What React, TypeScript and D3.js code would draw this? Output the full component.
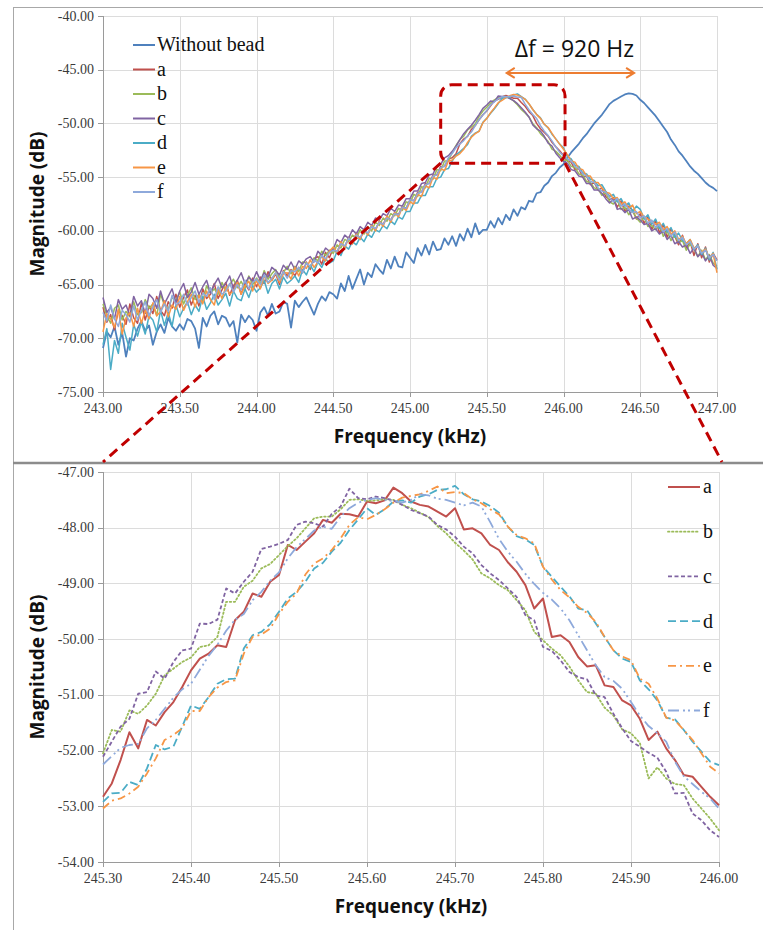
import * as d3 from 'd3';
import React, { useRef, useEffect } from 'react';

// sampling of the two panels
const topStart = 243.0;
const topStep = 0.025;
const zoomStart = 245.3;
const zoomStep = 0.01;

const topXTicks = [243.0, 243.5, 244.0, 244.5, 245.0, 245.5, 246.0, 246.5, 247.0];
const topYTicks = [-40, -45, -50, -55, -60, -65, -70, -75];
const zoomXTicks = [245.3, 245.4, 245.5, 245.6, 245.7, 245.8, 245.9, 246.0];
const zoomYTicks = [-47, -48, -49, -50, -51, -52, -53, -54];

const seriesNames = ['a', 'b', 'c', 'd', 'e', 'f'];
const seriesColors = ['#C0504D', '#9BBB59', '#8064A2', '#4BACC6', '#F79646', '#8EA9DB'];
const beadColor = '#4F81BD';
const zoomDash = ['', '1.5,2.5', '4,2.5', '8,4', '8,4,2,4', '11,4,2,3,2,4'];

// top panel (dB), 243.000 .. 247.000 kHz
const withoutBead = [
  -70.9, -69.4, -69.9, -68.9, -70.6, -69.5, -71.7, -70.0, -70.2, -69.1,
  -68.4, -69.3, -68.8, -70.6, -69.4, -68.7, -69.5, -68.1, -68.9, -69.3,
  -68.7, -69.2, -68.2, -68.4, -69.1, -70.9, -68.1, -68.9, -67.9, -67.5,
  -68.7, -67.9, -68.1, -68.9, -68.4, -70.4, -67.8, -68.5, -67.9, -68.3,
  -69.3, -67.6, -67.1, -67.9, -66.8, -67.7, -67.5, -66.6, -66.8, -69.0,
  -66.5, -67.1, -66.6, -66.2, -67.0, -67.8, -66.8, -66.1, -66.5, -65.7,
  -65.9, -66.3, -64.9, -65.6, -64.2, -65.4, -64.5, -63.6, -65.0, -63.9,
  -64.3, -63.1, -63.6, -64.0, -62.7, -63.5, -62.4, -63.3, -63.4, -62.0,
  -62.5, -63.0, -61.6, -62.3, -61.3, -62.2, -61.0, -61.8, -61.7, -60.7,
  -61.3, -60.5, -61.4, -60.3, -60.9, -59.8, -60.6, -59.3, -60.3, -59.9,
  -59.9, -59.1, -59.7, -58.8, -59.4, -58.5, -59.0, -58.0, -58.6, -57.8,
  -58.0, -57.2, -57.3, -56.5, -56.4, -55.8, -55.5, -54.9, -54.6, -54.1,
  -53.8, -53.2, -52.7, -52.3, -51.9, -51.4, -51.0, -50.5, -50.0, -49.6,
  -49.2, -48.7, -48.2, -47.9, -47.7, -47.5, -47.3, -47.2, -47.25, -47.4,
  -47.8, -48.1, -48.5, -48.9, -49.3, -49.8, -50.3, -50.8, -51.5, -52.0,
  -52.6, -53.0, -53.5, -54.0, -54.4, -54.7, -55.1, -55.5, -55.8, -56.0,
  -56.3,
];
const topA = [
  -67.1, -68.5, -67.8, -69.2, -67.4, -67.9, -68.7, -66.8, -68.1, -68.6,
  -66.7, -68.3, -67.0, -67.7, -66.1, -67.4, -67.9, -66.6, -67.2, -65.9,
  -67.1, -66.2, -65.5, -66.9, -66.0, -67.0, -65.4, -66.3, -65.9, -64.9,
  -66.3, -65.5, -64.8, -66.0, -65.1, -64.6, -65.9, -64.9, -65.5, -64.4,
  -65.2, -64.3, -64.9, -63.8, -64.6, -64.0, -65.0, -63.7, -64.2, -63.6,
  -64.2, -63.4, -63.9, -62.9, -63.6, -62.6, -62.4, -63.1, -62.0, -62.5,
  -61.6, -62.1, -61.1, -61.5, -60.6, -61.2, -60.2, -60.8, -59.9, -60.3,
  -59.5, -59.9, -59.1, -59.4, -58.7, -59.0, -58.3, -58.5, -57.7, -57.9,
  -57.1, -57.2, -56.4, -56.4, -55.6, -55.6, -54.8, -54.8, -54.0, -54.0,
  -53.3, -53.2, -52.83, -51.9, -51.45, -51.2, -50.56, -50.2, -49.66, -49.2,
  -48.85, -48.35, -47.86, -47.75, -47.53, -47.4, -47.53, -47.65, -47.65, -48.05,
  -48.40, -48.9, -49.27, -50.0, -50.49, -50.85, -51.19, -51.75, -52.17, -52.55,
  -52.98, -53.5, -53.6, -54.3, -54.2, -55.0, -54.9, -55.7, -55.5, -56.2,
  -56.0, -56.8, -57.1, -56.9, -57.8, -57.2, -58.2, -57.7, -58.1, -58.9,
  -58.4, -59.3, -58.7, -59.9, -59.0, -60.2, -59.4, -60.6, -59.8, -60.5,
  -61.3, -60.4, -61.6, -61.0, -62.3, -61.2, -62.5, -61.5, -62.9, -62.1,
  -62.7,
];
const topB = [
  -66.8, -67.9, -68.6, -67.2, -66.9, -68.3, -67.5, -68.0, -66.6, -67.8,
  -67.6, -66.4, -67.2, -66.8, -67.9, -65.9, -66.9, -67.3, -66.2, -66.5,
  -65.7, -66.8, -66.0, -65.3, -66.4, -65.9, -66.6, -65.1, -65.8, -65.4,
  -65.9, -64.8, -65.6, -65.0, -64.5, -65.3, -64.7, -65.4, -64.2, -65.0,
  -64.4, -64.9, -63.7, -64.5, -64.0, -63.6, -64.4, -63.9, -63.3, -64.0,
  -63.3, -63.8, -62.9, -63.0, -63.4, -62.5, -62.8, -61.9, -62.3, -61.8,
  -62.1, -61.3, -61.6, -60.8, -61.0, -60.4, -60.7, -59.9, -60.3, -59.6,
  -60.0, -59.2, -59.5, -58.8, -59.1, -58.4, -58.6, -57.9, -58.1, -57.3,
  -57.4, -56.6, -56.8, -55.9, -56.0, -55.1, -55.2, -54.3, -54.4, -53.5,
  -53.5, -52.7, -52.05, -51.5, -51.19, -50.6, -50.33, -50.05, -49.33, -48.85,
  -48.49, -48.1, -47.80, -47.6, -47.52, -47.5, -47.65, -47.9, -48.27, -48.7,
  -49.03, -49.4, -50.02, -50.4, -50.95, -51.3, -51.69, -52.4, -52.60, -52.95,
  -53.43, -53.4, -54.0, -54.1, -54.7, -54.8, -55.4, -55.5, -56.0, -56.1,
  -56.7, -56.4, -57.3, -57.5, -57.1, -58.0, -57.8, -58.5, -58.1, -58.8,
  -59.2, -58.7, -59.6, -59.5, -59.9, -59.4, -60.5, -60.0, -60.9, -60.4,
  -61.1, -60.9, -61.8, -61.2, -61.7, -62.4, -61.8, -62.7, -62.2, -63.0,
  -63.3,
];
const topC = [
  -66.2, -67.6, -67.1, -68.2, -66.4, -67.3, -66.9, -67.9, -66.1, -67.0,
  -66.5, -67.7, -65.9, -66.3, -67.2, -65.6, -66.8, -66.1, -65.4, -66.7,
  -65.6, -64.9, -66.2, -65.7, -64.8, -65.9, -65.2, -64.6, -65.8, -65.0,
  -64.4, -65.3, -64.9, -64.2, -65.4, -64.6, -63.9, -64.9, -64.3, -64.7,
  -63.8, -64.6, -63.9, -64.3, -63.4, -63.7, -64.1, -63.2, -63.6, -62.9,
  -63.6, -62.8, -63.1, -62.6, -62.4, -62.9, -61.9, -62.3, -61.6, -61.9,
  -61.7, -60.8, -61.1, -60.4, -60.7, -59.9, -60.3, -59.6, -59.9, -59.2,
  -59.5, -58.8, -59.0, -58.4, -58.6, -57.9, -58.2, -57.6, -57.7, -57.0,
  -57.0, -56.3, -56.3, -55.6, -55.5, -54.8, -54.7, -54.0, -53.8, -53.2,
  -53.0, -52.6, -52.11, -51.5, -50.95, -50.55, -50.17, -49.7, -49.18, -48.6,
  -48.29, -47.92, -47.98, -47.45, -47.49, -47.49, -47.68, -47.88, -48.16, -48.55,
  -48.94, -49.4, -50.14, -50.5, -50.72, -51.2, -51.83, -52.1, -52.77, -53.2,
  -53.55, -53.7, -54.3, -54.4, -54.9, -55.0, -55.6, -55.6, -56.2, -56.2,
  -56.5, -57.0, -57.4, -57.0, -58.0, -57.9, -58.3, -58.0, -58.9, -58.7,
  -59.0, -59.4, -59.3, -60.0, -59.8, -60.3, -60.0, -60.8, -60.4, -61.2,
  -61.0, -61.5, -61.3, -62.1, -61.6, -62.4, -62.0, -62.8, -62.3, -63.2,
  -63.5,
];
const topD = [
  -70.6, -69.1, -72.9, -70.2, -71.4, -68.6, -69.9, -71.1, -68.7, -69.8,
  -68.5, -69.6, -67.9, -68.3, -69.4, -67.4, -68.8, -67.6, -68.9, -66.9,
  -68.0, -67.2, -66.6, -67.8, -66.9, -67.5, -66.1, -67.3, -66.7, -65.9,
  -66.9, -66.4, -65.8, -67.0, -65.6, -66.3, -66.5, -65.4, -66.2, -65.1,
  -65.7, -65.3, -64.6, -65.8, -64.9, -64.5, -65.4, -64.3, -64.9, -64.6,
  -64.2, -64.8, -63.6, -64.1, -63.2, -63.8, -62.9, -63.4, -62.6, -63.0,
  -62.8, -61.9, -62.3, -61.4, -61.7, -61.0, -61.3, -60.6, -61.0, -60.3,
  -60.6, -59.9, -60.1, -59.5, -59.8, -59.1, -59.4, -58.7, -58.9, -58.2,
  -58.2, -57.4, -57.4, -56.7, -56.7, -55.9, -55.9, -55.1, -55.0, -54.3,
  -54.2, -53.5, -52.92, -52.65, -52.32, -51.95, -51.19, -50.9, -50.71, -49.9,
  -49.51, -49.05, -48.63, -48.15, -47.65, -47.6, -47.55, -47.36, -47.25, -47.51,
  -47.73, -48.18, -48.70, -49.15, -49.48, -50.08, -50.41, -51.0, -51.44, -51.93,
  -52.26, -53.1, -53.3, -53.9, -54.0, -54.6, -54.7, -55.2, -55.3, -55.8,
  -55.7, -56.3, -56.8, -56.6, -57.3, -57.0, -57.7, -57.4, -58.2, -57.7,
  -58.0, -58.9, -58.5, -59.4, -58.9, -59.8, -59.3, -60.1, -59.7, -60.6,
  -60.2, -60.9, -61.2, -60.8, -61.7, -61.3, -62.2, -61.6, -62.7, -62.0,
  -63.6,
];
const topE = [
  -69.4, -67.7, -68.2, -69.0, -67.3, -69.6, -68.1, -67.6, -68.9, -67.2,
  -68.6, -67.4, -68.2, -66.7, -67.9, -67.5, -66.5, -68.0, -66.9, -67.3,
  -66.1, -67.4, -66.6, -65.9, -67.1, -66.0, -66.8, -65.6, -66.4, -66.9,
  -65.4, -66.3, -65.2, -65.9, -65.6, -64.8, -65.9, -65.1, -64.7, -65.6,
  -64.6, -65.4, -64.2, -64.9, -64.6, -63.9, -64.8, -64.0, -63.9, -64.5,
  -63.4, -64.2, -63.3, -63.5, -62.7, -63.4, -62.9, -62.4, -62.8, -61.9,
  -61.5, -62.0, -61.0, -61.6, -60.7, -61.2, -60.3, -60.8, -59.9, -60.4,
  -59.5, -60.0, -59.1, -59.6, -58.6, -59.2, -58.3, -58.7, -57.8, -58.1,
  -57.3, -57.5, -56.6, -56.8, -55.8, -56.0, -55.0, -55.2, -54.2, -54.4,
  -53.5, -53.4, -53.04, -52.8, -52.41, -51.76, -51.29, -50.95, -50.74, -49.94,
  -49.55, -49.0, -48.55, -48.07, -47.85, -47.6, -47.43, -47.3, -47.36, -47.52,
  -47.76, -48.16, -48.70, -49.18, -49.53, -50.08, -50.38, -50.93, -51.46, -51.93,
  -52.41, -52.9, -53.5, -53.6, -54.2, -54.3, -54.9, -54.9, -55.5, -55.5,
  -56.0, -56.4, -56.5, -57.0, -56.9, -57.5, -57.3, -57.9, -57.6, -58.4,
  -58.2, -58.7, -58.9, -59.1, -59.4, -59.2, -59.9, -59.6, -60.3, -60.0,
  -60.8, -60.5, -61.2, -60.8, -61.6, -61.4, -62.0, -61.7, -62.5, -62.1,
  -63.9,
];
const topF = [
  -67.6, -68.4, -66.9, -68.2, -68.9, -67.4, -67.8, -68.5, -67.0, -68.3,
  -67.4, -66.6, -67.9, -67.1, -66.4, -67.6, -66.8, -67.5, -66.0, -66.9,
  -66.6, -65.9, -66.9, -66.2, -65.6, -66.7, -65.8, -66.1, -65.3, -66.4,
  -65.2, -65.9, -65.6, -64.9, -65.7, -65.0, -65.5, -64.6, -65.4, -64.8,
  -64.5, -65.0, -64.1, -64.8, -64.4, -63.9, -64.6, -63.8, -64.4, -63.7,
  -63.8, -63.4, -63.9, -63.0, -63.3, -62.7, -63.0, -62.3, -62.6, -62.0,
  -61.8, -61.9, -61.2, -61.4, -60.7, -61.0, -60.4, -60.6, -60.0, -60.2,
  -59.6, -59.8, -59.2, -59.4, -58.8, -59.0, -58.4, -58.5, -57.8, -57.9,
  -57.1, -57.2, -56.5, -56.4, -55.7, -55.6, -54.9, -54.8, -54.1, -54.0,
  -53.2, -52.8, -52.25, -51.92, -51.60, -51.15, -50.80, -50.2, -49.65, -49.22,
  -48.80, -48.28, -47.98, -47.72, -47.50, -47.51, -47.50, -47.45, -47.55, -47.58,
  -48.20, -48.72, -49.17, -49.55, -50.20, -50.72, -51.13, -51.62, -52.20, -52.67,
  -53.04, -53.3, -53.5, -54.0, -54.2, -54.7, -54.9, -55.4, -55.5, -56.0,
  -56.3, -56.4, -56.9, -57.3, -57.0, -57.7, -57.5, -58.0, -58.3, -58.2,
  -58.8, -58.6, -59.3, -59.0, -59.7, -59.4, -60.1, -59.8, -60.5, -60.1,
  -60.9, -60.6, -61.3, -61.0, -61.7, -61.4, -62.1, -61.8, -62.5, -62.2,
  -62.8,
];

// zoomed panel (dB), 245.30 .. 246.00 kHz
const zoomA = [
  -52.83, -52.59, -52.17, -51.67, -51.96, -51.45, -51.55, -51.31, -51.13, -50.86,
  -50.56, -50.35, -50.26, -50.11, -50.14, -49.66, -49.51, -49.18, -49.24, -48.97,
  -48.85, -48.31, -48.40, -48.25, -48.10, -47.86, -47.91, -47.75, -47.76, -47.80,
  -47.53, -47.56, -47.51, -47.28, -47.38, -47.53, -47.59, -47.62, -47.71, -47.80,
  -47.65, -48.03, -48.01, -48.10, -48.31, -48.40, -48.62, -48.79, -49.03, -49.45,
  -49.27, -49.96, -49.93, -50.05, -50.32, -50.49, -50.47, -50.83, -50.86, -51.10,
  -51.19, -51.43, -51.81, -51.66, -51.96, -52.17, -52.44, -52.47, -52.65, -52.83,
  -52.98,
];
const zoomB = [
  -52.05, -51.63, -51.66, -51.28, -51.34, -51.19, -50.98, -50.65, -50.53, -50.41,
  -50.33, -50.14, -50.11, -49.96, -49.33, -49.33, -49.06, -48.95, -48.73, -48.65,
  -48.49, -48.33, -48.19, -48.01, -47.83, -47.80, -47.80, -47.67, -47.50, -47.49,
  -47.52, -47.51, -47.49, -47.50, -47.59, -47.65, -47.73, -47.81, -47.97, -48.10,
  -48.27, -48.41, -48.57, -48.82, -48.91, -49.03, -49.12, -49.30, -49.48, -49.87,
  -50.02, -50.17, -50.29, -50.49, -50.74, -50.95, -50.98, -51.23, -51.37, -51.62,
  -51.69, -51.86, -52.50, -52.30, -52.50, -52.60, -52.62, -52.86, -53.04, -53.22,
  -53.43,
];
const zoomC = [
  -52.11, -51.84, -51.57, -51.43, -50.98, -50.95, -50.58, -50.71, -50.41, -50.20,
  -50.17, -49.72, -49.73, -49.65, -49.09, -49.18, -48.97, -48.79, -48.38, -48.34,
  -48.29, -48.22, -47.95, -47.89, -47.92, -47.98, -47.75, -47.62, -47.30, -47.47,
  -47.49, -47.44, -47.47, -47.51, -47.59, -47.68, -47.74, -47.80, -47.95, -48.03,
  -48.16, -48.34, -48.46, -48.67, -48.82, -48.94, -49.09, -49.24, -49.57, -49.66,
  -50.14, -50.21, -50.38, -50.59, -50.68, -50.72, -51.01, -51.04, -51.34, -51.60,
  -51.83, -51.93, -52.04, -52.13, -52.38, -52.77, -52.76, -53.13, -53.25, -53.43,
  -53.55,
];
const zoomD = [
  -52.92, -52.77, -52.76, -52.56, -52.62, -52.32, -51.90, -51.98, -51.93, -51.57,
  -51.19, -51.25, -51.04, -50.80, -50.72, -50.71, -50.17, -49.93, -49.87, -49.73,
  -49.51, -49.27, -49.15, -48.97, -48.73, -48.63, -48.43, -48.27, -48.04, -47.85,
  -47.65, -47.77, -47.67, -47.53, -47.51, -47.55, -47.44, -47.40, -47.32, -47.31,
  -47.25, -47.40, -47.49, -47.53, -47.61, -47.73, -47.98, -48.15, -48.21, -48.31,
  -48.70, -48.88, -49.06, -49.23, -49.45, -49.48, -49.72, -49.96, -50.20, -50.35,
  -50.41, -50.74, -50.90, -51.10, -51.41, -51.44, -51.63, -51.84, -52.02, -52.20,
  -52.26,
];
const zoomE = [
  -53.04, -52.90, -52.86, -52.77, -52.65, -52.41, -52.14, -51.81, -51.72, -51.60,
  -51.29, -51.29, -51.04, -50.87, -50.77, -50.74, -50.26, -49.96, -49.92, -49.81,
  -49.55, -49.33, -49.18, -48.84, -48.64, -48.55, -48.40, -48.19, -47.95, -47.81,
  -47.85, -47.77, -47.67, -47.55, -47.46, -47.43, -47.40, -47.34, -47.26, -47.38,
  -47.36, -47.38, -47.49, -47.56, -47.67, -47.76, -47.98, -48.13, -48.19, -48.28,
  -48.70, -48.93, -49.12, -49.25, -49.42, -49.53, -49.69, -49.96, -50.20, -50.31,
  -50.38, -50.71, -50.80, -51.07, -51.41, -51.46, -51.63, -51.81, -52.05, -52.29,
  -52.41,
];
const zoomF = [
  -52.25, -52.10, -51.95, -51.90, -51.88, -51.60, -51.45, -51.25, -51.05, -50.90,
  -50.80, -50.55, -50.30, -50.10, -49.85, -49.65, -49.55, -49.30, -49.15, -48.95,
  -48.80, -48.55, -48.35, -48.20, -48.05, -47.98, -48.02, -47.80, -47.65, -47.55,
  -47.50, -47.47, -47.50, -47.52, -47.55, -47.50, -47.40, -47.42, -47.48, -47.50,
  -47.55, -47.60, -47.55, -47.62, -47.90, -48.20, -48.43, -48.61, -48.83, -49.01,
  -49.17, -49.29, -49.45, -49.66, -49.93, -50.20, -50.47, -50.68, -50.75, -50.89,
  -51.13, -51.37, -51.56, -51.69, -51.84, -52.20, -52.46, -52.60, -52.74, -52.86,
  -53.04,
];

const topSeries = [topA, topB, topC, topD, topE, topF];
const zoomSeries = [zoomA, zoomB, zoomC, zoomD, zoomE, zoomF];

// zoom window drawn on the top panel, and the shift arrow
const boxKHz = [245.2, 246.01];
const boxDB = [-46.4, -53.7];
const shiftKHz = [245.63, 246.46];
const shiftDB = -45.3;

const W = 763;
const H = 930;
const serif = '"Liberation Serif", "Times New Roman", serif';
const sans = '"Open Sans", "Noto Sans", sans-serif';
const fmt = d => d.toFixed(2);

function drawFrame(g, x, y, xTicks, yTicks) {
  const [x0, x1] = x.range();
  const [y0, y1] = y.range();
  const grid = g.append('g').attr('stroke', '#DCDCDC').attr('stroke-width', 1);
  grid.selectAll('.h').data(yTicks).join('line')
    .attr('x1', x0).attr('x2', x1)
    .attr('y1', d => Math.round(y(d)) + 0.5).attr('y2', d => Math.round(y(d)) + 0.5);
  grid.selectAll('.v').data(xTicks).join('line')
    .attr('y1', y0).attr('y2', y1)
    .attr('x1', d => Math.round(x(d)) + 0.5).attr('x2', d => Math.round(x(d)) + 0.5);

  const ax = g.append('g').attr('stroke', '#9A9A9A').attr('stroke-width', 1);
  ax.append('line').attr('x1', x0 + 0.5).attr('x2', x0 + 0.5).attr('y1', y0).attr('y2', y1);
  ax.append('line').attr('x1', x0).attr('x2', x1).attr('y1', y0 + 0.5).attr('y2', y0 + 0.5);
  ax.selectAll('.yt').data(yTicks).join('line')
    .attr('x1', x0 - 5).attr('x2', x0)
    .attr('y1', d => Math.round(y(d)) + 0.5).attr('y2', d => Math.round(y(d)) + 0.5);
  ax.selectAll('.xt').data(xTicks).join('line')
    .attr('y1', y0).attr('y2', y0 + 5)
    .attr('x1', d => Math.round(x(d)) + 0.5).attr('x2', d => Math.round(x(d)) + 0.5);

  g.append('g').selectAll('text').data(yTicks).join('text')
    .attr('x', x0 - 9).attr('y', d => y(d)).attr('dy', '0.33em')
    .attr('text-anchor', 'end').attr('font-family', serif).attr('font-size', 14)
    .attr('fill', '#3A3A3A').text(fmt);
  g.append('g').selectAll('text').data(xTicks).join('text')
    .attr('x', d => x(d)).attr('y', y0 + 21)
    .attr('text-anchor', 'middle').attr('font-family', serif).attr('font-size', 14)
    .attr('fill', '#3A3A3A').text(fmt);

  g.append('text')
    .attr('transform', `translate(44,${(y0 + y1) / 2}) rotate(-90)`)
    .attr('text-anchor', 'middle').attr('font-family', sans).attr('font-weight', 700)
    .attr('font-size', 19).attr('fill', '#111').text('Magnitude (dB)');
  g.append('text')
    .attr('x', (x0 + x1) / 2).attr('y', y0 + 51)
    .attr('text-anchor', 'middle').attr('font-family', sans).attr('font-weight', 700)
    .attr('font-size', 19).attr('fill', '#111').text('Frequency (kHz)');
}

function App() {
  const ref = useRef(null);

  useEffect(() => {
    const svg = d3.select(ref.current);
    svg.selectAll('*').remove();

    svg.append('rect').attr('width', W).attr('height', H).attr('fill', '#fff');

    // panel outlines
    svg.append('rect').attr('x', 13.5).attr('y', 7.5).attr('width', W).attr('height', 456)
      .attr('fill', 'none').attr('stroke', '#A8A8A8');
    svg.append('line').attr('x1', 13.5).attr('x2', 13.5).attr('y1', 463).attr('y2', H)
      .attr('stroke', '#A8A8A8');

    // ---- top panel ----
    const xT = d3.scaleLinear().domain([243, 247]).range([103, 717]);
    const yT = d3.scaleLinear().domain([-75, -40]).range([392, 16]);
    const top = svg.append('g');
    drawFrame(top, xT, yT, topXTicks, topYTicks);

    const lineT = d3.line()
      .x((d, i) => xT(topStart + i * topStep))
      .y(d => yT(d));

    const curves = top.append('g').attr('fill', 'none').attr('stroke-linejoin', 'round');
    curves.append('path').attr('d', lineT(withoutBead))
      .attr('stroke', beadColor).attr('stroke-width', 1.8);
    topSeries.forEach((s, i) => {
      curves.append('path').attr('d', lineT(s))
        .attr('stroke', seriesColors[i]).attr('stroke-width', 1.5);
    });

    // top legend
    const legT = top.append('g');
    const topLegend = [{ name: 'Without bead', color: beadColor }]
      .concat(seriesNames.map((n, i) => ({ name: n, color: seriesColors[i] })));
    topLegend.forEach((d, i) => {
      const cy = 45 + i * 24.5;
      legT.append('line').attr('x1', 133).attr('x2', 155).attr('y1', cy).attr('y2', cy)
        .attr('stroke', d.color).attr('stroke-width', 2);
      legT.append('text').attr('x', 157).attr('y', cy).attr('dy', '0.32em')
        .attr('font-family', serif).attr('font-size', 20).attr('fill', '#111').text(d.name);
    });

    // shift arrow
    const ax1 = xT(shiftKHz[0]);
    const ax2 = xT(shiftKHz[1]);
    const ay = yT(shiftDB);
    const arr = top.append('g').attr('stroke', '#ED7D31').attr('stroke-width', 2)
      .attr('fill', 'none');
    arr.append('line').attr('x1', ax1).attr('x2', ax2).attr('y1', ay).attr('y2', ay);
    arr.append('polyline').attr('points', `${ax1 + 8},${ay - 5} ${ax1},${ay} ${ax1 + 8},${ay + 5}`);
    arr.append('polyline').attr('points', `${ax2 - 8},${ay - 5} ${ax2},${ay} ${ax2 - 8},${ay + 5}`);
    top.append('text').attr('x', (ax1 + ax2) / 2 + 4).attr('y', 57)
      .attr('text-anchor', 'middle').attr('font-family', sans).attr('font-size', 23)
      .attr('fill', '#111').text('\u0394f = 920 Hz');

    // ---- bottom panel ----
    const xB = d3.scaleLinear().domain([245.3, 246.0]).range([103, 719]);
    const yB = d3.scaleLinear().domain([-54, -47]).range([862, 472]);
    const bot = svg.append('g');
    drawFrame(bot, xB, yB, zoomXTicks, zoomYTicks);

    const lineB = d3.line()
      .x((d, i) => xB(zoomStart + i * zoomStep))
      .y(d => yB(d));
    const zc = bot.append('g').attr('fill', 'none').attr('stroke-linejoin', 'round');
    zoomSeries.forEach((s, i) => {
      zc.append('path').attr('d', lineB(s))
        .attr('stroke', seriesColors[i]).attr('stroke-width', i === 0 ? 2 : 1.8)
        .attr('stroke-dasharray', zoomDash[i] || null)
        .attr('stroke-linecap', i === 1 ? 'round' : 'butt');
    });

    const legB = bot.append('g');
    seriesNames.forEach((n, i) => {
      const cy = 487 + i * 44.7;
      legB.append('line').attr('x1', 668).attr('x2', 700).attr('y1', cy).attr('y2', cy)
        .attr('stroke', seriesColors[i]).attr('stroke-width', i === 0 ? 2 : 1.8)
        .attr('stroke-dasharray', zoomDash[i] || null)
        .attr('stroke-linecap', i === 1 ? 'round' : 'butt');
      legB.append('text').attr('x', 703).attr('y', cy).attr('dy', '0.32em')
        .attr('font-family', serif).attr('font-size', 20).attr('fill', '#111').text(n);
    });

    // separator between the panels
    svg.append('line').attr('x1', 13).attr('x2', W).attr('y1', 463).attr('y2', 463)
      .attr('stroke', '#8C8C8C').attr('stroke-width', 2.5);

    // zoom window and connector lines
    const red = svg.append('g').attr('fill', 'none').attr('stroke', '#C00000')
      .attr('stroke-width', 3).attr('stroke-dasharray', '10,6');
    const bx0 = xT(boxKHz[0]);
    const bx1 = xT(boxKHz[1]);
    const by0 = yT(boxDB[0]);
    const by1 = yT(boxDB[1]);
    red.append('rect').attr('x', bx0).attr('y', by0).attr('width', bx1 - bx0)
      .attr('height', by1 - by0).attr('rx', 11);
    red.append('line').attr('x1', bx0).attr('y1', by1).attr('x2', xB(245.3)).attr('y2', 462);
    red.append('line').attr('x1', bx1).attr('y1', by1).attr('x2', xB(246.0) + 3).attr('y2', 462);
  }, []);

  return (
    <div style={{ position: 'absolute', left: 0, top: 0 }}>
      <svg ref={ref} width={W} height={H} style={{ display: 'block' }} />
    </div>
  );
}

export default App;
